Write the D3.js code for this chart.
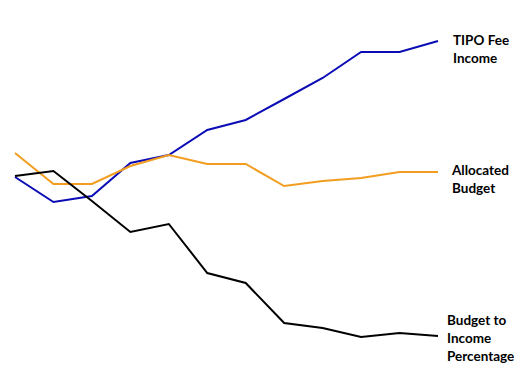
<!DOCTYPE html>
<html><head><meta charset="utf-8">
<script src="https://cdn.jsdelivr.net/npm/d3@7"></script>
<style>html,body{margin:0;padding:0;background:#fff;}svg{display:block;}</style>
</head><body><svg id="c" width="530" height="384"></svg>
<script>
const periods = ["P1","P2","P3","P4","P5","P6","P7","P8","P9","P10","P11","P12"];
const feeIncome = [173,148,154,187,195,220,230,251,272,298,298,309];
const allocatedBudget = [197,166,166,184,195,186,186,164,169,172,178,178];
const budgetToIncome = [174,179,149,118,126,77,67,27,22,13,17,14];
const seriesNames = ["TIPO Fee|Income","Allocated|Budget","Budget to|Income|Percentage"];

const svg = d3.select("#c");
const x = d3.scalePoint().domain(periods).range([15, 438]);
const y = d3.scaleLinear().domain([0, 310]).range([350, 40]);
const line = d3.line().x((d,i)=>x(periods[i])).y(d=>y(d));

const series = [
  {vals: feeIncome, color: "#0c0cb6", label: seriesNames[0], lx: 453, ly: 45},
  {vals: allocatedBudget, color: "#f29d1f", label: seriesNames[1], lx: 452, ly: 175},
  {vals: budgetToIncome, color: "#000000", label: seriesNames[2], lx: 447, ly: 325}
];
series.forEach(s => {
  svg.append("path").datum(s.vals).attr("d", line)
    .attr("fill","none").attr("stroke", s.color).attr("stroke-width", 2)
    .attr("stroke-linejoin","miter");
  const t = svg.append("text").attr("x", s.lx).attr("y", s.ly)
    .attr("font-family","Lato, 'Open Sans', sans-serif").attr("font-weight","bold")
    .attr("font-size", 13.5).attr("fill","#000");
  s.label.split("|").forEach((l,i)=>{
    t.append("tspan").attr("x", s.lx).attr("dy", i===0?0:18).text(l);
  });
});
</script></body></html>
